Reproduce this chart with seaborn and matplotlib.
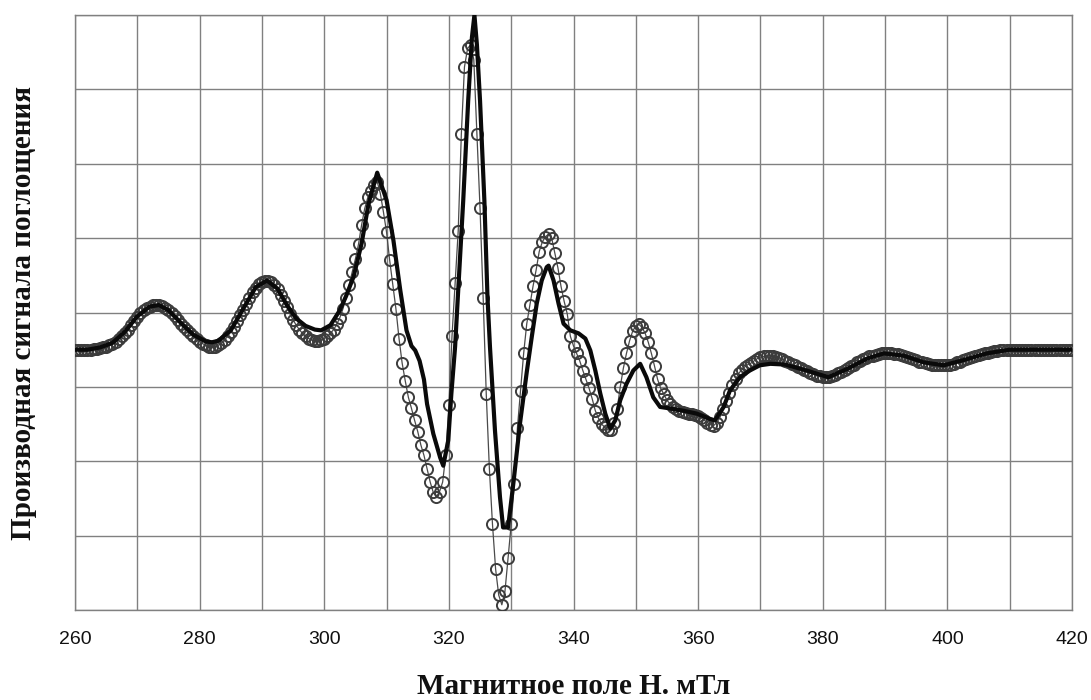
import numpy as np
import pandas as pd
import matplotlib
matplotlib.use("Agg")
import matplotlib.pyplot as plt
import seaborn as sns

# ---------------- data ----------------
# Magnetic field step of the measured (circle) series, mT
field_start = 260.0
field_step = 0.5

# measured derivative signal (circles), one value per 0.5 mT from 260 to 420
exp_values = [
    0.00, 0.00, 0.00, 0.00, 0.00, 0.00, 0.01, 0.01, 0.02, 0.03,        # 260
    0.04, 0.06, 0.08, 0.11, 0.14, 0.18, 0.22, 0.27, 0.33, 0.39,        # 265
    0.44, 0.49, 0.53, 0.56, 0.58, 0.60, 0.60, 0.60, 0.59, 0.56,        # 270
    0.53, 0.49, 0.45, 0.40, 0.35, 0.31, 0.26, 0.22, 0.18, 0.14,        # 275
    0.11, 0.08, 0.06, 0.04, 0.03, 0.04, 0.06, 0.09, 0.13, 0.18,        # 280
    0.24, 0.31, 0.38, 0.46, 0.54, 0.62, 0.70, 0.77, 0.83, 0.88,        # 285
    0.91, 0.93, 0.93, 0.91, 0.87, 0.81, 0.74, 0.66, 0.57, 0.48,        # 290
    0.40, 0.33, 0.27, 0.22, 0.18, 0.15, 0.13, 0.12, 0.12, 0.13,        # 295
    0.15, 0.18, 0.22, 0.27, 0.34, 0.43, 0.55, 0.70, 0.87, 1.05,        # 300
    1.22, 1.42, 1.68, 1.90, 2.05, 2.14, 2.21, 2.26, 2.10, 1.85,        # 305
    1.58, 1.20, 0.88, 0.55, 0.15, -0.18, -0.42, -0.64, -0.79, -0.95,   # 310
    -1.10, -1.28, -1.42, -1.60, -1.78, -1.92, -1.98, -1.91, -1.78, -1.42,  # 315
    -0.75, 0.18, 0.90, 1.60, 2.90, 3.80, 4.05, 4.10, 3.90, 2.90,       # 320
    1.90, 0.70, -0.60, -1.60, -2.35, -2.95, -3.30, -3.43, -3.25, -2.80,  # 325
    -2.35, -1.80, -1.05, -0.55, -0.05, 0.35, 0.60, 0.85, 1.07, 1.32,   # 330
    1.45, 1.52, 1.55, 1.50, 1.30, 1.10, 0.85, 0.65, 0.48, 0.18,        # 335
    0.05, -0.05, -0.15, -0.28, -0.40, -0.52, -0.66, -0.82, -0.92, -1.00,  # 340
    -1.04, -1.08, -1.08, -0.98, -0.80, -0.50, -0.25, -0.05, 0.12, 0.25,   # 345
    0.32, 0.34, 0.30, 0.22, 0.10, -0.05, -0.22, -0.40, -0.52, -0.60,   # 350
    -0.68, -0.73, -0.77, -0.80, -0.82, -0.84, -0.85, -0.86, -0.87, -0.88,  # 355
    -0.89, -0.92, -0.95, -0.98, -1.01, -1.02, -0.98, -0.91, -0.80, -0.69,  # 360
    -0.58, -0.48, -0.40, -0.32, -0.27, -0.23, -0.20, -0.18, -0.15, -0.12,  # 365
    -0.10, -0.09, -0.08, -0.08, -0.09, -0.10, -0.11, -0.13, -0.15, -0.17,  # 370
    -0.19, -0.21, -0.23, -0.25, -0.27, -0.29, -0.31, -0.33, -0.35, -0.36,  # 375
    -0.37, -0.37, -0.37, -0.36, -0.34, -0.32, -0.30, -0.27, -0.25, -0.22,  # 380
    -0.20, -0.17, -0.15, -0.13, -0.11, -0.09, -0.08, -0.07, -0.06, -0.05,  # 385
    -0.05, -0.05, -0.05, -0.06, -0.06, -0.07, -0.08, -0.10, -0.11, -0.13,  # 390
    -0.14, -0.16, -0.17, -0.18, -0.19, -0.20, -0.21, -0.21, -0.21, -0.21,  # 395
    -0.21, -0.20, -0.19, -0.17, -0.16, -0.14, -0.13, -0.11, -0.10, -0.08,  # 400
    -0.07, -0.06, -0.05, -0.04, -0.03, -0.02, -0.02, -0.01, -0.01, -0.01,  # 405
    0.00, 0.00, 0.00, 0.00, 0.00, 0.00, 0.00, 0.00, 0.00, 0.00,        # 410
    0.00, 0.00, 0.00, 0.00, 0.00, 0.00, 0.00, 0.00, 0.00, 0.00,        # 415
    0.00,                                                              # 420
]

# calculated spectrum (solid line): field (mT) and value
calc_field = [
    260, 262, 264, 266, 268, 270, 272, 273.5, 275, 277, 279, 281, 282, 283,
    285, 287, 289, 290.8, 292.5, 294, 295.5, 297, 298.5, 299.5, 301, 302.5,
    303.5, 304.7, 306.0, 307.1, 308.5, 310.0, 311.1, 312.2, 313.2, 314.0,
    314.6, 315.3, 316.0, 316.5, 317.5, 318.6, 319.1, 319.9, 320.4, 321.0,
    321.4, 322.3, 323.1, 323.7, 324.1, 324.5, 325.0, 325.7, 326.2, 326.6,
    327.4, 328.2, 328.7, 329.5, 330.4, 331.4, 332.5, 333.3, 334.1, 334.9,
    335.7, 336.0, 336.8, 337.6, 338.4, 339.5, 340.8, 341.9, 342.7, 343.5,
    344.3, 345.1, 345.9, 346.7, 347.5, 348.5, 349.6, 350.7, 351.7, 352.8,
    353.9, 355.5, 357.6, 359.8, 361.9, 362.7, 364.1, 365.1, 366.7, 368.3,
    369.9, 371.6, 374.0, 377.4, 380.9, 383.9, 387.1, 389.8, 393.0, 396.2,
    399.4, 402.6, 406.3, 410.0, 420.0,
]
calc_values = [
    0.0, 0.0, 0.03, 0.09, 0.24, 0.45, 0.58, 0.60, 0.53, 0.36, 0.20, 0.11, 0.10, 0.12,
    0.26, 0.55, 0.84, 0.93, 0.82, 0.60, 0.42, 0.32, 0.27, 0.26, 0.33, 0.53,
    0.72, 0.98, 1.43, 1.96, 2.38, 2.01, 1.47, 0.80, 0.26, 0.05,
    -0.01, -0.15, -0.40, -0.73, -1.13, -1.45, -1.56, -1.22, -0.59, 0.04,
    0.65, 2.00, 3.35, 4.20, 4.50, 4.10, 3.35, 2.00, 0.70, 0.03,
    -1.09, -1.98, -2.39, -2.39, -1.76, -1.00, -0.30, 0.17, 0.62, 0.93,
    1.11, 1.13, 0.93, 0.62, 0.35, 0.26, 0.22, 0.15, -0.01, -0.28,
    -0.59, -0.86, -1.06, -0.95, -0.68, -0.46, -0.28, -0.19, -0.37, -0.64,
    -0.77, -0.79, -0.82, -0.86, -0.93, -0.95, -0.77, -0.55, -0.37, -0.28,
    -0.21, -0.19, -0.20, -0.28, -0.37, -0.26, -0.12, -0.05, -0.08, -0.17,
    -0.21, -0.14, -0.05, 0.00, 0.00,
]

x_ticks = [260, 280, 300, 320, 340, 360, 380, 400, 420]
x_label = "Магнитное поле Н. мТл"
y_label = "Производная сигнала поглощения"

assert len(exp_values) == 321
assert len(calc_field) == len(calc_values)

exp_field = field_start + field_step * np.arange(len(exp_values))
df_exp = pd.DataFrame({"field": exp_field, "value": exp_values})
df_calc = pd.DataFrame({"field": calc_field, "value": calc_values})

# ---------------- drawing ----------------
sns.set_theme(style="white")
plt.rcParams["font.family"] = ["Liberation Sans", "DejaVu Sans"]

fig = plt.figure(figsize=(10.91, 7.00), dpi=100)
ax = fig.add_axes([75 / 1091, 1 - 610 / 700, (1072 - 75) / 1091, (610 - 15) / 700])

sns.lineplot(data=df_exp, x="field", y="value", ax=ax, color="#4a4a4a",
             linewidth=0.9, marker="o", markersize=8.0, markerfacecolor="none",
             markeredgecolor="#3c3c3c", markeredgewidth=1.4, zorder=3,
             estimator=None, sort=False)
sns.lineplot(data=df_calc, x="field", y="value", ax=ax, color="#0a0a0a",
             linewidth=3.0, zorder=4, estimator=None, sort=False,
             solid_joinstyle="round", solid_capstyle="round")

ax.set_xlim(260, 420)
ax.set_ylim(-3.5, 4.5)
ax.set_xticks(np.arange(260, 421, 10))
ax.set_xticklabels([str(t) if t in x_ticks else "" for t in np.arange(260, 421, 10)])
ax.set_yticks(np.arange(-3.5, 4.51, 1.0))
ax.set_yticklabels([])
ax.grid(True, color="#808080", linewidth=1.0)
ax.set_axisbelow(True)
for s in ax.spines.values():
    s.set_color("#808080")
    s.set_linewidth(1.0)
ax.tick_params(axis="both", length=0)
ax.tick_params(axis="x", pad=15, labelsize=14, labelcolor="#111111")

ax.set_xlabel(x_label, fontsize=21, fontweight="bold", family="Liberation Serif",
              labelpad=18, color="#111111")
ax.set_ylabel(y_label, fontsize=21, fontweight="bold", family="Liberation Serif",
              labelpad=24, color="#111111")

fig.savefig("out.png", dpi=100, facecolor="white")
